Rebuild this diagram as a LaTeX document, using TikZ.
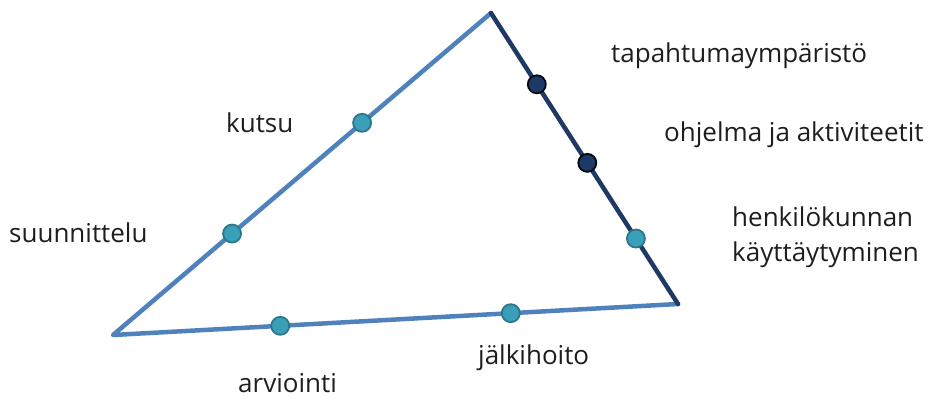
\documentclass[tikz,border=0pt]{standalone}
\usepackage{fontspec}
\setmainfont{Open Sans}
\usetikzlibrary{positioning}
\definecolor{sideblue}{HTML}{4F81BD}
\definecolor{sidenavy}{HTML}{1F3864}
\definecolor{dotteal}{HTML}{3A9FB8}
\definecolor{dotnavy}{HTML}{1C3A66}
\definecolor{labelgrey}{HTML}{1E1E1E}

\tikzset{
  side/.style={line width=4.5pt, line cap=round, line join=round},
  tealdot/.style={circle, draw=dotteal!75!black, fill=dotteal, line width=1.8pt, minimum size=18pt, inner sep=0pt},
  navydot/.style={circle, draw=black!85!sidenavy, fill=dotnavy, line width=1.8pt, minimum size=18pt, inner sep=0pt},
  lbl/.style={anchor=west, inner sep=0pt, text=labelgrey, font=\fontsize{26}{35}\selectfont}
}

\begin{document}
\begin{tikzpicture}[x=1pt, y=-1pt]
  \useasboundingbox (0,0) rectangle (935,410);
  % kolmion kärjet
  \coordinate (vl) at (113,335);
  \coordinate (vt) at (491,13);
  \coordinate (vr) at (678,304);
  % sivut
  \draw[side, sideblue] (vr) -- (vl) -- (vt);
  \draw[side, sidenavy] (vt) -- (vr);
  % pisteet
  \path (vl) -- (vt)
    node[tealdot, pos=.315] (suun) {}
    node[tealdot, pos=.659] (kuts) {};
  \path (vt) -- (vr)
    node[navydot, pos=.245] (tapa) {}
    node[navydot, pos=.515] (ohje) {}
    node[tealdot, pos=.775] (henk) {};
  \path (vl) -- (vr)
    node[tealdot, pos=.296] (arvi) {}
    node[tealdot, pos=.704] (jalk) {};
  % tekstit
  \node[lbl] (tsuun) at (9,233) {suunnittelu};
  \node[lbl] (tkuts) at (226,123) {kutsu};
  \node[lbl] (ttapa) at (611,56) {tapahtumaympäristö};
  \node[lbl] (tohje) at (664,135) {ohjelma ja aktiviteetit};
  \node[lbl, align=left] (thenk) at (732,237) {henkilökunnan\\käyttäytyminen};
  \node[lbl] (tarvi) at (238,383) {arviointi};
  \node[lbl] (tjalk) at (478,358) {jälkihoito};
\end{tikzpicture}
\end{document}
